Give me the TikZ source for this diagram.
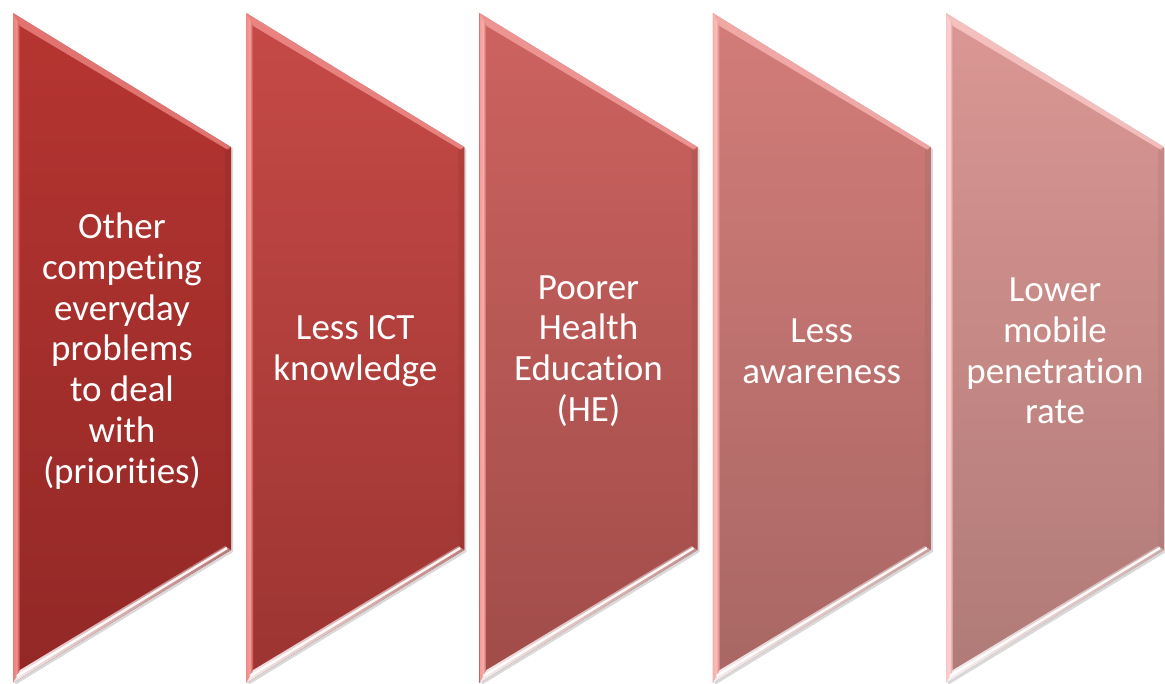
\documentclass[tikz,border=0pt]{standalone}
\usepackage{fontspec}
\setmainfont[Ligatures=NoCommon]{Carlito}
\usetikzlibrary{shadows}
\definecolor{ta}{HTML}{B63531}\definecolor{ba}{HTML}{922826}\definecolor{ha}{HTML}{F4908C}
\definecolor{tb}{HTML}{C64A47}\definecolor{bb}{HTML}{9C3431}\definecolor{hb}{HTML}{F89C98}
\definecolor{tc}{HTML}{CD6360}\definecolor{bc}{HTML}{A04C49}\definecolor{hc}{HTML}{FBAAA7}
\definecolor{td}{HTML}{D37C79}\definecolor{bd}{HTML}{A86764}\definecolor{hd}{HTML}{FDBCB9}
\definecolor{te}{HTML}{DB9794}\definecolor{be}{HTML}{AF7A77}\definecolor{he}{HTML}{FFD2D0}
\tikzset{
  lbl/.style={text=white, align=center, font=\fontsize{37}{40.8}\selectfont, inner sep=0pt},
}
\begin{document}
\begin{tikzpicture}[x=1pt,y=1pt]
\useasboundingbox (0,0) rectangle (1165,684);
\foreach \i/\tc/\bc/\hc in {0/ta/ba/ha,1/tb/bb/hb,2/tc/bc/hc,3/td/bd/hd,4/te/be/he}{
  \pgfmathsetmacro{\L}{13+233.25*\i}
  \pgfmathsetmacro{\R}{\L+218}
  % shadow
  \fill[black,opacity=0.15] (\L+2,669) -- (\R+2,535) -- (\R+2,132) -- (\L+2,-1) -- cycle;
  % body
  \shade[top color=\tc, bottom color=\bc] (\L,671) -- (\R,537) -- (\R,134) -- (\L,1) -- cycle;
  % left bevel
  \shade[left color=\hc!80!\tc, right color=\tc!70!\bc, middle color=\hc]
     (\L,671) -- (\L+7,658) -- (\L+7,14) -- (\L,1) -- cycle;
  % top bevel
  \fill[\hc, opacity=0.7] (\L,671) -- (\R,537) -- (\R-3,534) -- (\L+7,658) -- cycle;
  % right bevel
  \fill[\bc, opacity=0.35] (\R,537) -- (\R,134) -- (\R-6,138) -- (\R-6,534) -- cycle;
  % bottom bevel
  \shade[top color=\bc!60!white, bottom color=white, opacity=0.9]
     (\L+7,14) -- (\R-6,138) -- (\R,134) -- (\L,1) -- cycle;
  \draw[white, line width=2.5pt, opacity=0.9] (\L+4,8) -- (\R-4,136);
}
\node[lbl] (t1) at (122,333) {Other\\competing\\everyday\\problems\\to deal\\with\\(priorities)};
\node[lbl] (t2) at (355.25,333) {Less ICT\\knowledge};
\node[lbl] (t3) at (588.5,333) {Poorer\\Health\\Education\\(HE)};
\node[lbl] (t4) at (821.75,333) {Less\\awareness};
\node[lbl] (t5) at (1055,333) {Lower\\mobile\\penetration\\rate};
\end{tikzpicture}
\end{document}
